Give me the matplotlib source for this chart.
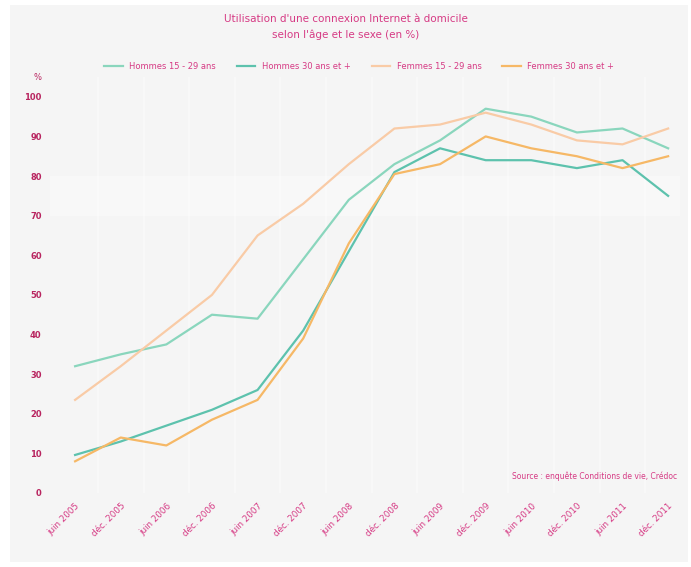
import numpy as np
import matplotlib.pyplot as plt
from matplotlib.patches import Rectangle

# semi-annual survey waves
periods = ["juin 2005", "déc. 2005", "juin 2006", "déc. 2006", "juin 2007",
           "déc. 2007", "juin 2008", "déc. 2008", "juin 2009", "déc. 2009",
           "juin 2010", "déc. 2010", "juin 2011", "déc. 2011"]

hommes_jeunes = [32, 35, 37.5, 45, 44, 59, 74, 83, 89, 97, 95, 91, 92, 87]
hommes_ages = [9.6, 13, 17, 21, 26, 41, 61, 81, 87, 84, 84, 82, 84, 75]
femmes_jeunes = [23.5, 32, 41, 50, 65, 73, 83, 92, 93, 96, 93, 89, 88, 92]
femmes_agees = [8, 14, 12, 18.5, 23.5, 39, 63, 80.5, 83, 90, 87, 85, 82, 85]

series_labels = ["Hommes 15 - 29 ans", "Hommes 30 ans et +",
                 "Femmes 15 - 29 ans", "Femmes 30 ans et +"]
series_colors = ["#8ad6bd", "#5dc2ad", "#f9cba6", "#f6b866"]

pink = "#d63a84"
dark_pink = "#b8245f"
bg = "#f5f5f5"

fig = plt.figure(figsize=(6.91, 5.67), dpi=100, facecolor="white")
fig.patches.append(Rectangle((10 / 691, 5 / 567), 678 / 691, 557 / 567,
                             transform=fig.transFigure, facecolor=bg,
                             edgecolor="none", zorder=-10))

ax = fig.add_axes([50 / 691, 74 / 567, 630 / 691, 416 / 567])
ax.set_facecolor(bg)
for s in ax.spines.values():
    s.set_visible(False)

x = np.arange(len(periods))
for vals, lab, col in zip([hommes_jeunes, hommes_ages, femmes_jeunes, femmes_agees],
                          series_labels, series_colors):
    ax.plot(x, vals, color=col, lw=1.6, label=lab, zorder=3)

ax.set_xlim(-0.55, 13.26)
ax.set_ylim(0, 105)

# faint separators between periods and a lighter band
for xb in x[:-1] + 0.5:
    ax.axvline(xb, color="white", lw=1.2, alpha=0.45, zorder=1)
ax.axhspan(70, 80, color="white", alpha=0.35, lw=0, zorder=1)

ax.set_yticks(range(0, 101, 10))
ax.set_yticklabels([str(v) for v in range(0, 101, 10)], fontsize=6,
                   color=dark_pink, fontweight="bold")
ax.tick_params(axis="y", length=0, pad=6)
ax.text(-0.02, 105, "%", transform=ax.get_yaxis_transform(), ha="center",
        va="center", fontsize=6, color=dark_pink)

ax.set_xticks(x)
ax.set_xticklabels(periods, rotation=45, ha="right", rotation_mode="anchor",
                   fontsize=6.3, color=pink)
ax.tick_params(axis="x", length=0, pad=6)

fig.text(0.5, 0.975, "Utilisation d'une connexion Internet à domicile\n"
         "selon l'âge et le sexe (en %)", ha="center", va="top",
         fontsize=7.5, color=pink, linespacing=1.6)

fig.legend(loc="center", bbox_to_anchor=(0.52, 0.882), ncol=4, frameon=False,
           fontsize=6, labelcolor=pink, handlelength=2.2, columnspacing=2.5)

ax.text(0.995, 0.04, "Source : enquête Conditions de vie, Crédoc",
        transform=ax.transAxes, ha="right", va="center", fontsize=5.5,
        color=pink)

fig.savefig("out.png", dpi=100, facecolor="white")
